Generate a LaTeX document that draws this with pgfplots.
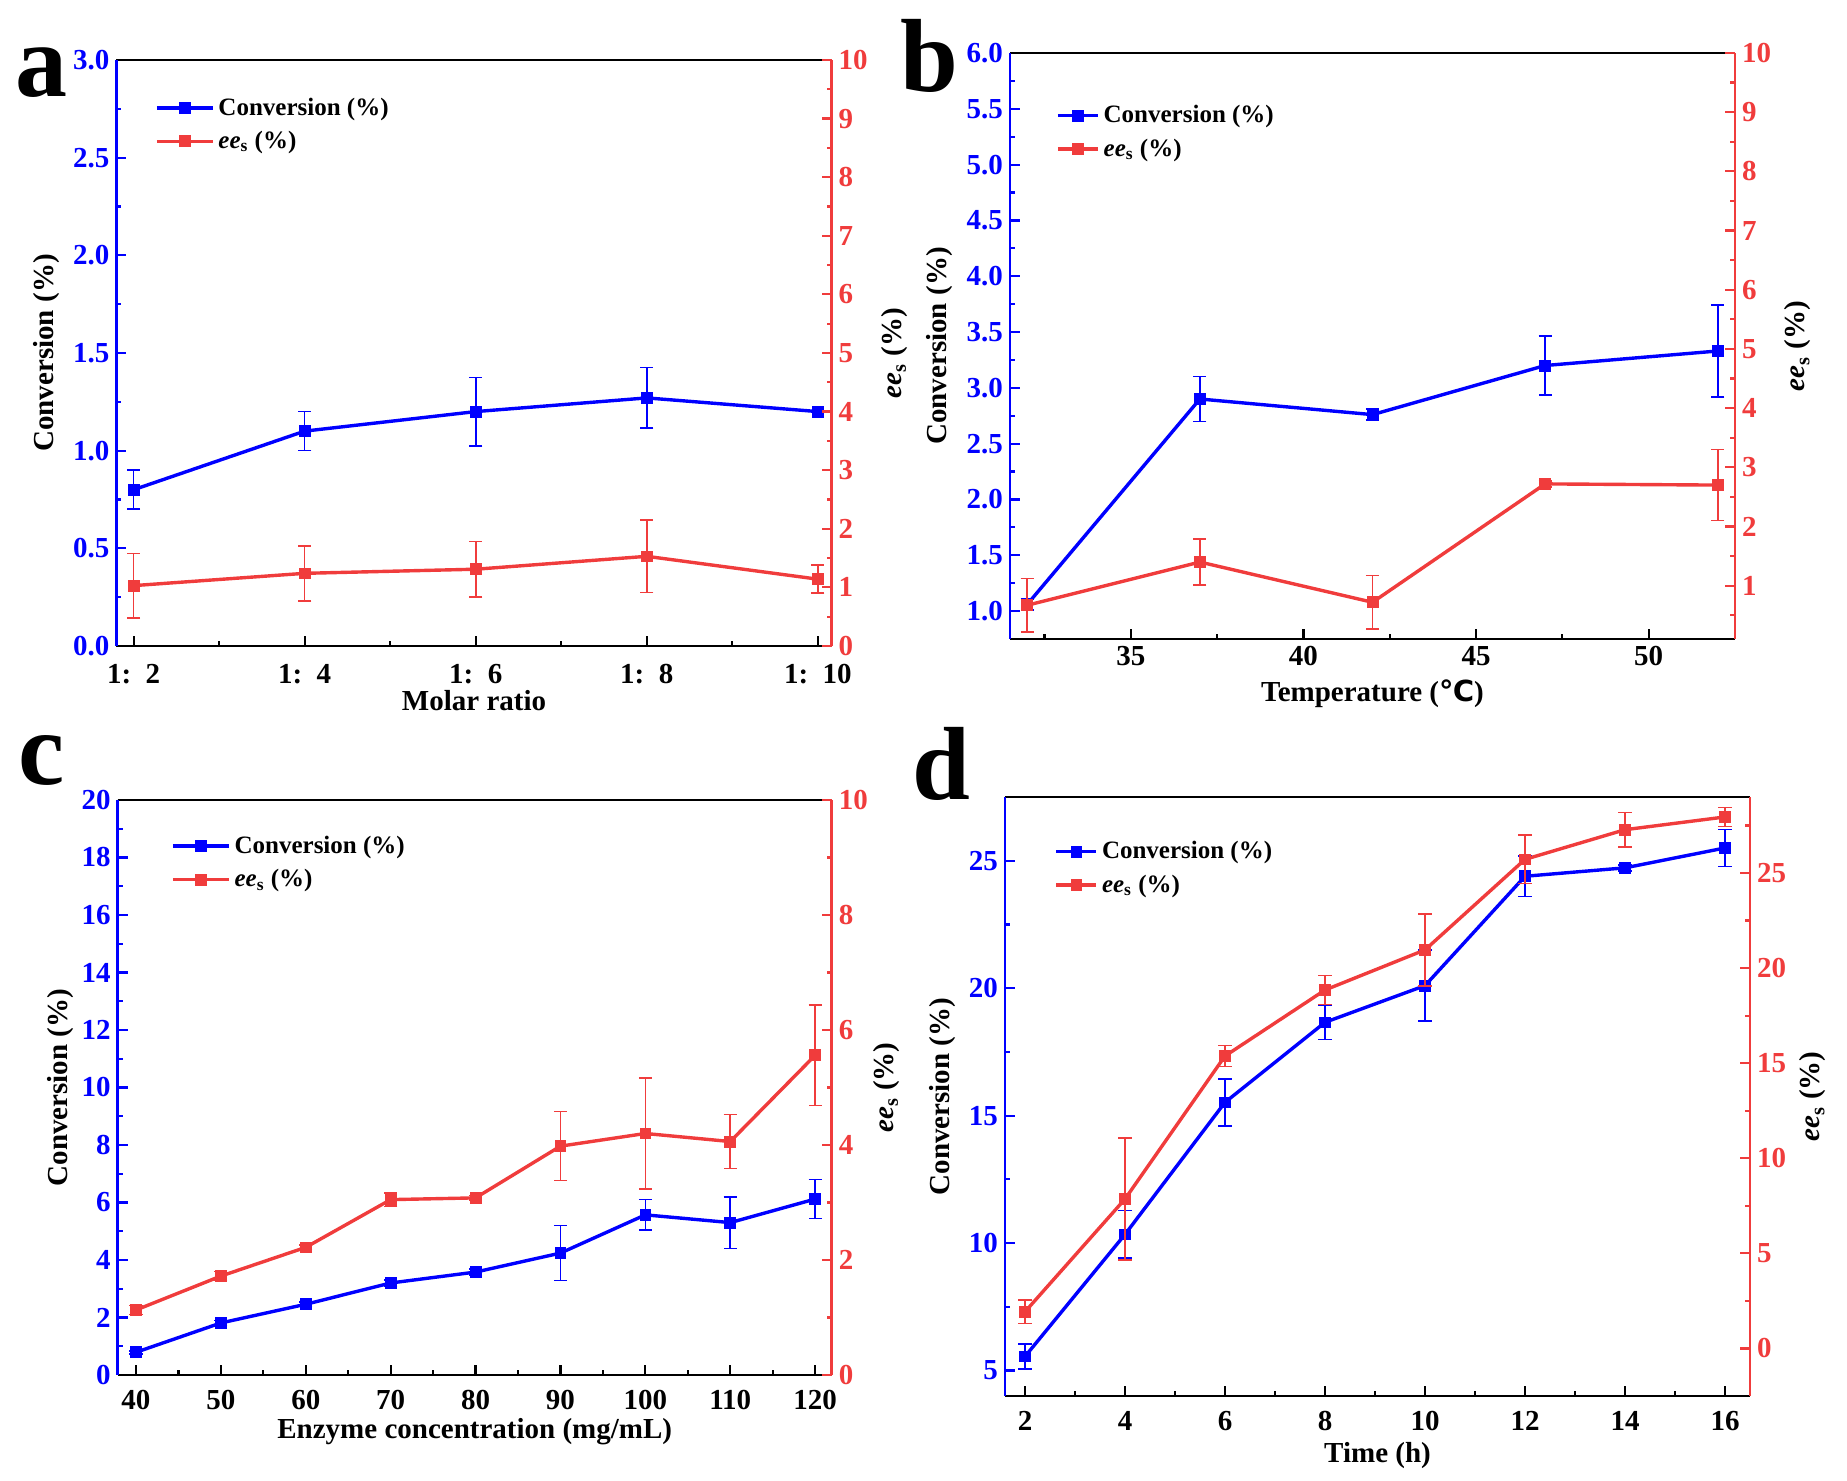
\documentclass[border=0pt]{standalone}
\usepackage{pgfplots}
\pgfplotsset{compat=1.18}
\usepackage{fontspec}
\setmainfont{Liberation Serif}
\newfontfamily\dejavu{DejaVu Sans}
\definecolor{cblue}{RGB}{0,0,255}
\definecolor{cred}{RGB}{240,60,60}
\pgfplotsset{
 common/.style={
   scale only axis, anchor=south west, clip=false,
   /pgf/number format/assume math mode=true,
   tick align=inside,
   major tick length=5pt, minor tick length=2.5pt,
   every tick/.append style={line width=1.1pt},
   tick label style={font=\fontsize{14.5}{16}\selectfont\bfseries},
   label style={font=\fontsize{14.5}{16}\selectfont\bfseries},
   axis line style={line width=1.4pt},
 },
 lax/.style={common, axis y line*=left, xtick pos=bottom,
   y axis line style={cblue}, ytick style={cblue}, yticklabel style={cblue},
   xtick style={black},
   legend style={draw=none, fill=none, font=\fontsize{12.5}{15}\selectfont\bfseries, anchor=north west, row sep=2.5pt},
   legend cell align=left,
 },
 rax/.style={common, axis y line*=right, axis x line=none,
   y axis line style={cred}, ytick style={cred}, yticklabel style={cred}},
 longleg/.style={legend image code/.code={\draw[mark repeat=2,mark phase=2,##1] plot coordinates {(0pt,0pt)(14pt,0pt)(28pt,0pt)};}},
 shortleg/.style={legend image code/.code={\draw[mark repeat=2,mark phase=2,##1] plot coordinates {(0pt,0pt)(10pt,0pt)(20pt,0pt)};}},
 bplot/.style={cblue, line width=1.7pt, mark=square*, mark size=2.7pt, mark options={line width=0.4pt}},
 rplot/.style={cred, line width=1.7pt, mark=square*, mark size=2.7pt, mark options={line width=0.4pt}},
 eb/.style={error bars/.cd, y dir=both, y explicit, error bar style={line width=0.8pt}, error mark options={rotate=90, mark size=3.3pt, line width=0.8pt}},
 onedec/.style={yticklabel style={/pgf/number format/.cd, fixed, fixed zerofill, precision=1}},
}
\begin{document}
\begin{tikzpicture}
\useasboundingbox (0,0) rectangle (923.5pt,740.5pt);
% panel letters
\node[anchor=base west, inner sep=0pt, font=\fontsize{52}{52}\selectfont\bfseries] at (7.5pt,692pt) {a};
\node[anchor=base west, inner sep=0pt, font=\fontsize{52}{52}\selectfont\bfseries] at (450pt,694.5pt) {b};
\node[anchor=base west, inner sep=0pt, font=\fontsize{52}{52}\selectfont\bfseries] at (9pt,348pt) {c};
\node[anchor=base west, inner sep=0pt, font=\fontsize{52}{52}\selectfont\bfseries] at (456pt,340.5pt) {d};

% ---------------- panel a
\begin{axis}[lax, longleg, onedec, xticklabel shift=5.5pt, xlabel shift=-3.5pt, at={(58.25pt,417.5pt)}, width=357.5pt, height=293pt,
  xmin=-0.1, xmax=4.08, ymin=0, ymax=3,
  xtick={0,1,2,3,4}, xticklabels={1:\enspace 2,1:\enspace 4,1:\enspace 6,1:\enspace 8,1:\enspace 10},
  minor xtick={0.5,1.5,2.5,3.5},
  ytick={0,0.5,...,3.0}, minor ytick={0.25,0.75,...,2.75},
  xlabel={Molar ratio}, ylabel={Conversion (\%)},
  legend style={at={(0.045,0.95)}}]
\addplot[bplot, eb] coordinates {(0,0.80) +- (0,0.10) (1,1.10) +- (0,0.10) (2,1.20) +- (0,0.175) (3,1.27) +- (0,0.155) (4,1.20) +- (0,0.005)};
\addlegendentry{Conversion (\%)}
\addlegendimage{rplot}
\addlegendentry{\textit{ee}\textsubscript{s} (\%)}
\end{axis}
\begin{axis}[rax, at={(58.25pt,417.5pt)}, width=357.5pt, height=293pt,
  xmin=-0.1, xmax=4.08, ymin=0, ymax=10,
  ytick={0,1,...,10}, minor ytick={0.5,1.5,...,9.5},
  ylabel={\textit{ee}\textsubscript{s} (\%)}]
\addplot[rplot, eb] coordinates {(0,1.03) +- (0,0.55) (1,1.24) +- (0,0.47) (2,1.31) +- (0,0.47) (3,1.53) +- (0,0.62) (4,1.14) +- (0,0.24)};
\end{axis}

% ---------------- panel b
\begin{axis}[lax, shortleg, onedec, at={(505pt,421pt)}, width=362.5pt, height=293pt,
  xmin=31.5, xmax=52.5, ymin=0.75, ymax=6,
  xtick={35,40,45,50}, minor xtick={32.5,37.5,42.5,47.5},
  ytick={1.0,1.5,...,6.0}, minor ytick={1.25,1.75,...,5.75},
  xlabel={Temperature ({\dejavu\bfseries ℃})}, ylabel={Conversion (\%)},
  legend style={at={(0.055,0.925)}}]
\addplot[bplot, eb] coordinates {(32,1.06) +- (0,0.05) (37,2.90) +- (0,0.20) (42,2.76) +- (0,0.05) (47,3.20) +- (0,0.265) (52,3.33) +- (0,0.41)};
\addlegendentry{Conversion (\%)}
\addlegendimage{rplot}
\addlegendentry{\textit{ee}\textsubscript{s} (\%)}
\end{axis}
\begin{axis}[rax, at={(505pt,421pt)}, width=362.5pt, height=293pt,
  xmin=31.5, xmax=52.5, ymin=0.1, ymax=10,
  ytick={1,2,...,10}, minor ytick={0.5,1.5,...,9.5},
  ylabel={\textit{ee}\textsubscript{s} (\%)}]
\addplot[rplot, eb] coordinates {(32,0.67) +- (0,0.45) (37,1.40) +- (0,0.39) (42,0.72) +- (0,0.45) (47,2.72) +- (0,0.05) (52,2.70) +- (0,0.60)};
\end{axis}

% ---------------- panel c
\begin{axis}[lax, longleg, xticklabel shift=4pt, xlabel shift=-2.5pt, at={(58.85pt,53pt)}, width=357pt, height=287.5pt,
  xmin=37.85, xmax=121.95, ymin=0, ymax=20,
  xtick={40,50,...,120}, minor xtick={45,55,...,115},
  ytick={0,2,...,20}, minor ytick={1,3,...,19},
  xlabel={Enzyme concentration (mg/mL)}, ylabel={Conversion (\%)},
  ylabel shift=-3pt,
  legend style={at={(0.066,0.952)}}]
\addplot[bplot, eb] coordinates {(40,0.79) +- (0,0.05) (50,1.81) +- (0,0.08) (60,2.46) +- (0,0.08) (70,3.20) +- (0,0.10) (80,3.58) +- (0,0.10) (90,4.24) +- (0,0.96) (100,5.57) +- (0,0.53) (110,5.30) +- (0,0.90) (120,6.12) +- (0,0.68)};
\addlegendentry{Conversion (\%)}
\addlegendimage{rplot}
\addlegendentry{\textit{ee}\textsubscript{s} (\%)}
\end{axis}
\begin{axis}[rax, at={(58.85pt,53pt)}, width=357pt, height=287.5pt,
  xmin=37.85, xmax=121.95, ymin=0, ymax=10,
  ytick={0,2,...,10}, minor ytick={1,3,...,9},
  ylabel shift=-4pt,
  ylabel={\textit{ee}\textsubscript{s} (\%)}]
\addplot[rplot, eb] coordinates {(40,1.13) +- (0,0.08) (50,1.72) +- (0,0.08) (60,2.22) +- (0,0.04) (70,3.05) +- (0,0.12) (80,3.08) +- (0,0.04) (90,3.98) +- (0,0.60) (100,4.20) +- (0,0.97) (110,4.06) +- (0,0.47) (120,5.56) +- (0,0.87)};
\end{axis}

% ---------------- panel d
\begin{axis}[lax, shortleg, xticklabel shift=4pt, xlabel shift=-1pt, at={(502.5pt,42.5pt)}, width=372.5pt, height=299.5pt,
  xmin=1.6, xmax=16.5, ymin=4, ymax=27.5,
  xtick={2,4,...,16}, minor xtick={3,5,...,15},
  ytick={5,10,...,25}, minor ytick={7.5,12.5,17.5,22.5},
  xlabel={Time (h)}, ylabel={Conversion (\%)},
  legend style={at={(0.058,0.94)}}]
\addplot[bplot, eb] coordinates {(2,5.55) +- (0,0.5) (4,10.34) +- (0,0.93) (6,15.52) +- (0,0.92) (8,18.66) +- (0,0.67) (10,20.10) +- (0,1.4) (12,24.39) +- (0,0.8) (14,24.72) +- (0,0.12) (16,25.50) +- (0,0.72)};
\addlegendentry{Conversion (\%)}
\addlegendimage{rplot}
\addlegendentry{\textit{ee}\textsubscript{s} (\%)}
\end{axis}
\begin{axis}[rax, at={(502.5pt,42.5pt)}, width=372.5pt, height=299.5pt,
  xmin=1.6, xmax=16.5, ymin=-2.5, ymax=29,
  ytick={0,5,...,25}, minor ytick={2.5,7.5,...,27.5},
  ylabel={\textit{ee}\textsubscript{s} (\%)}]
\addplot[rplot, eb] coordinates {(2,1.93) +- (0,0.62) (4,7.86) +- (0,3.2) (6,15.38) +- (0,0.55) (8,18.85) +- (0,0.77) (10,20.96) +- (0,1.9) (12,25.72) +- (0,1.27) (14,27.28) +- (0,0.9) (16,27.95) +- (0,0.5)};
\end{axis}
\end{tikzpicture}
\end{document}
